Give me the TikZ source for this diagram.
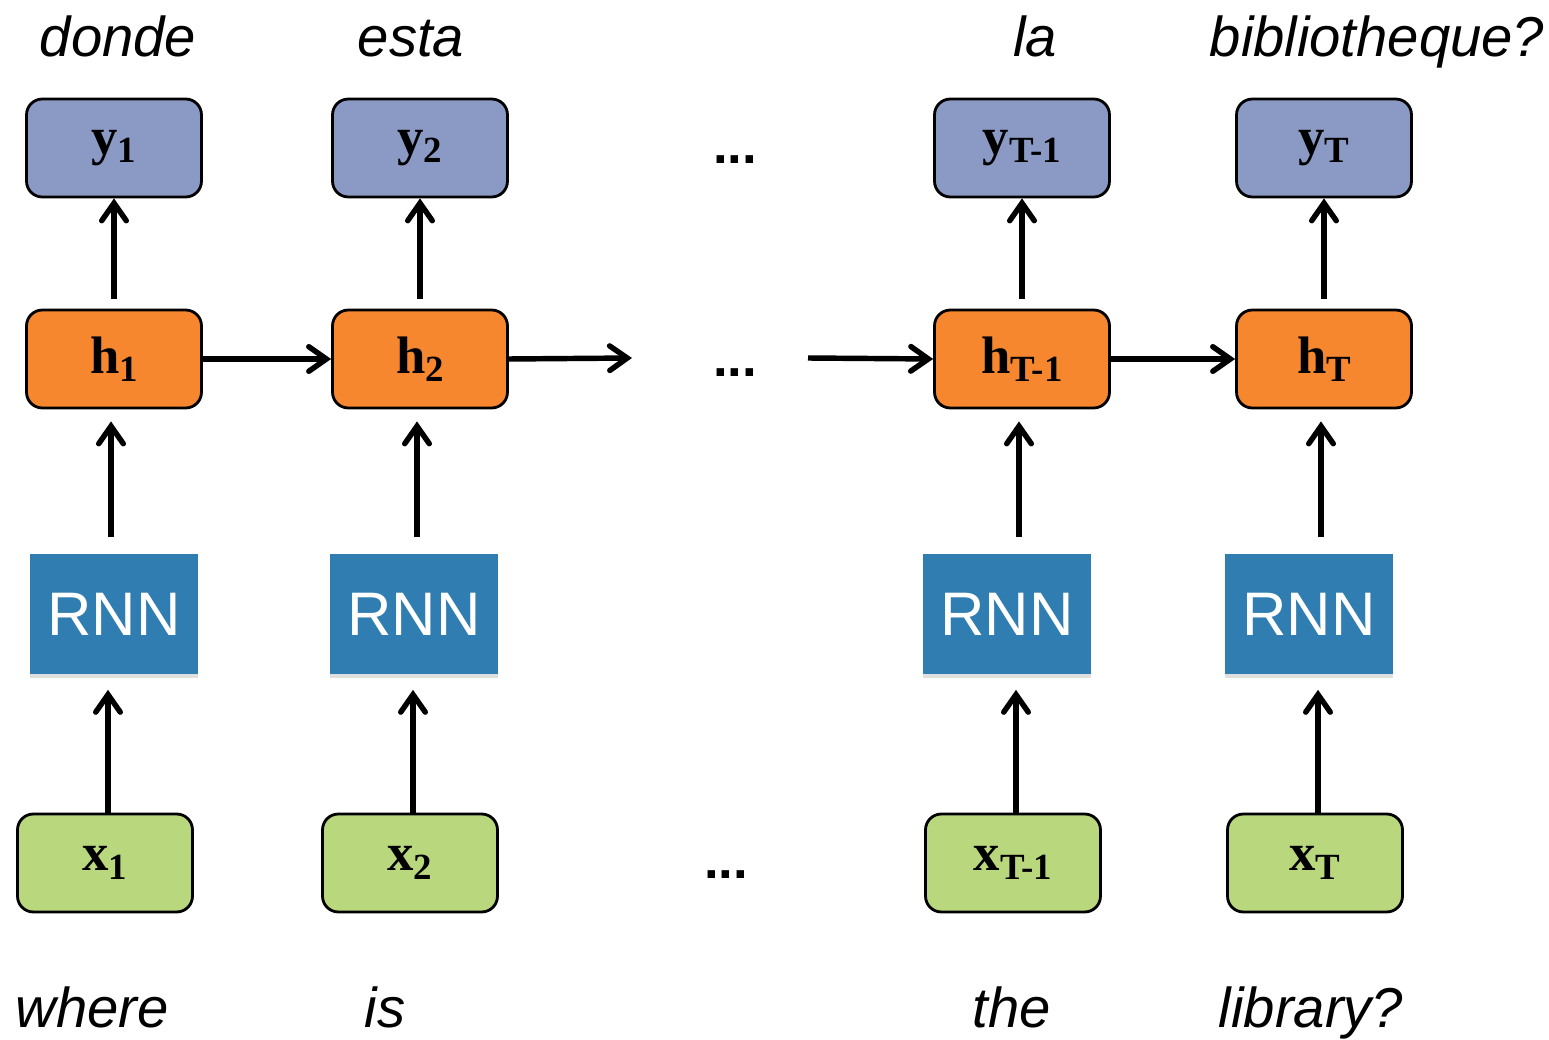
\documentclass[tikz,border=0pt]{standalone}
\usepackage{fontspec}
\setmainfont{Liberation Serif}
\newfontfamily\wordfont{Liberation Sans}
\usetikzlibrary{arrows.meta,shadows}

\definecolor{ycol}{HTML}{8A9AC4}
\definecolor{hcol}{HTML}{F6872F}
\definecolor{xcol}{HTML}{B9D77D}
\definecolor{rnncol}{HTML}{2F7DB1}

% bold vector with lowered index
\newcommand{\vlbl}[2]{\bfseries #1\raisebox{-0.35ex}{\fontsize{21}{21}\selectfont #2}}

\tikzset{
  ybox/.style={draw=black, line width=1.6pt, rounded corners=9pt, fill=ycol,
    minimum width=3.5cm, minimum height=1.96cm, inner sep=0pt,
    font=\fontsize{30}{30}\selectfont},
  hbox/.style={ybox, fill=hcol},
  xbox/.style={ybox, fill=xcol},
  rnnbox/.style={fill=rnncol, minimum width=3.38cm, minimum height=2.42cm,
    text=white, font=\wordfont\fontsize{35}{35}\selectfont,
    drop shadow={shadow xshift=0pt, shadow yshift=-2pt, opacity=0.25}},
  word/.style={anchor=base, font=\wordfont\itshape\fontsize{32}{32}\selectfont},
  dots/.style={font=\wordfont\bfseries\fontsize{30}{30}\selectfont},
  flow/.style={-{Straight Barb[length=10pt,width=14pt,line cap=round]}, line width=3.1pt},
}

\begin{document}
\begin{tikzpicture}[x=0.02cm, y=-0.02cm]
        \useasboundingbox (0,0) rectangle (1549,1040);

        % Colonnes : sorties, etats, cellules, entrees
        \foreach \n/\cy/\cr/\cx/\sub in {1/114/114/105/1, 2/420/414/410/2, 3/1022/1007/1013/T-1, 4/1324/1309/1315/T} {
            \node[ybox] (y\n) at (\cy,148) {\vlbl{y}{\sub}};
            \node[hbox] (h\n) at (\cy,359) {\vlbl{h}{\sub}};
            \node[rnnbox] (r\n) at (\cr,614) {RNN};
            \node[xbox] (x\n) at (\cx,863) {\vlbl{x}{\sub}};

            \draw[flow, shorten >=0.3cm] ([xshift=0.06cm]x\n.north) -- ([xshift=0.06cm]x\n.north |- r\n.south);
            \draw[flow, shorten <=0.32cm, shorten >=0.24cm] ([xshift=-0.06cm]h\n.south |- r\n.north) -- ([xshift=-0.06cm]h\n.south);
            \draw[flow, shorten <=0.2cm] (h\n.north) -- (y\n.south);
        }

        % Recurrence
        \coordinate (cut1) at (632,358);
        \coordinate (cut2) at (808,358);
        \draw[flow] (h1.east) -- (h2.west);
        \draw[flow] (h2.east) -- (cut1);
        \draw[flow] (cut2) -- (h3.west);
        \draw[flow] (h3.east) -- (h4.west);

        % Points de suspension
        \node[dots] (dy) at (735,160) {...};
        \node[dots] (dh) at (735,373) {...};
        \node[dots] (dx) at (726,875) {...};

        % Phrases
        \node[word] (t1) at (118,57) {donde};
        \node[word] (t2) at (411,57) {esta};
        \node[word] (t3) at (1035,57) {la};
        \node[word] (t4) at (1377,57) {bibliotheque?};
        \node[word] (s1) at (92,1027) {where};
        \node[word] (s2) at (385,1027) {is};
        \node[word] (s3) at (1012,1027) {the};
        \node[word] (s4) at (1311,1027) {library?};
    \end{tikzpicture}
\end{document}
